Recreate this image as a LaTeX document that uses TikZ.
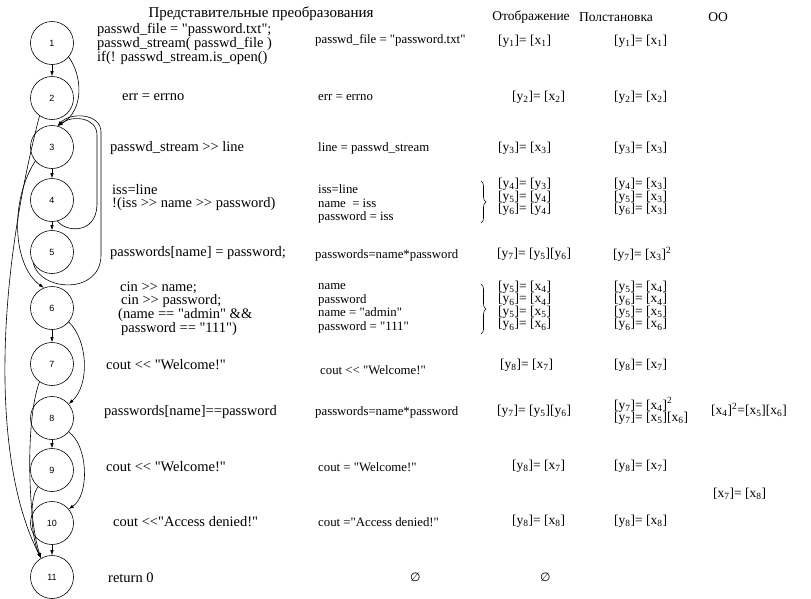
\documentclass[tikz,border=0pt]{standalone}
\usepackage{fontspec}
\setmainfont{Liberation Serif}[Ligatures=TeXOff]
\newfontfamily\circfont{Liberation Sans}
\newfontfamily\symfont{DejaVu Sans}
\usetikzlibrary{arrows.meta,decorations.pathreplacing}
\newcommand\bkt[2]{[#1\textsubscript{#2}]}
\begin{document}
\begin{tikzpicture}[x=1pt,y=-1pt,
  st/.style={circle,draw,line width=0.6pt,minimum size=43pt,inner sep=0pt,font=\circfont\fontsize{9}{9}\selectfont},
  conn/.style={-{Latex[length=5pt,width=3.5pt]},line width=0.6pt},
  hdr/.style={inner sep=0pt,font=\fontsize{15}{15}\selectfont},
  shdr/.style={inner sep=0pt,font=\fontsize{13.5}{13.5}\selectfont},
  ctext/.style={anchor=west,inner sep=0pt,align=left,font=\fontsize{14.5}{12.5}\selectfont},
  rtext/.style={anchor=west,inner sep=0pt,align=left,font=\fontsize{12.8}{13.5}\selectfont},
  eqn/.style={anchor=west,inner sep=0pt,align=left,font=\fontsize{13.5}{12.5}\selectfont},
  brc/.style={decorate,decoration={brace,amplitude=5pt},line width=0.6pt}
]
\useasboundingbox[fill=white] (0,0) rectangle (811,598);
% states
\node[st] (n1) at (52,43) {1};
\node[st] (n2) at (52,98) {2};
\node[st] (n3) at (52,147) {3};
\node[st] (n4) at (52,200) {4};
\node[st] (n5) at (52,252) {5};
\node[st] (n6) at (52,308) {6};
\node[st] (n7) at (52,364) {7};
\node[st] (n8) at (52,418) {8};
\node[st] (n9) at (52,470) {9};
\node[st] (n10) at (52,523) {10};
\node[st] (n11) at (52,577) {11};
% straight edges
\draw[conn] (n1) -- (n2);
\draw[conn] (n3) -- (n4);
\draw[conn] (n4) -- (n5);
\draw[conn] (n6) -- (n7);
\draw[conn] (n8) -- (n9);
\draw[conn] (n10) -- (n11);
% curved edges
\draw[conn] (n1.-40) .. controls (82,75) and (85,110) .. (n3.75);
\draw[conn] (n4.-75) .. controls (65,232) and (96,235) .. (97,205) -- (97,135) .. controls (97,117) and (72,115) .. (n3.75);
\draw[conn] (n5.-150) .. controls (40,292) and (101,295) .. (101,255) -- (101,132) .. controls (101,113) and (70,112) .. (n3.75);
\draw[conn] (n3.-140) .. controls (10,200) and (12,265) .. (n6.112);
\draw[conn] (n2.-125) .. controls (-8,300) and (-5,470) .. (n11.120);
\draw[conn] (n6.-40) .. controls (88,340) and (90,385) .. (n8.40);
\draw[conn] (n8.-40) .. controls (88,445) and (90,495) .. (n10.40);
\draw[conn] (n7.-125) .. controls (25,420) and (28,520) .. (n11.120);
\draw[conn] (n9.-130) .. controls (28,500) and (32,540) .. (n11.120);
% headers
\node[hdr] (h1) at (261,14) {Представительные преобразования};
\node[shdr] (h2) at (531,17) {Отображение};
\node[shdr] (h3) at (616,17) {Полстановка};
\node[shdr] (h4) at (718,17) {ОО};
% column 1: program statements
\node[ctext] (a1) at (97,44) {passwd\_file = "password.txt";\\passwd\_stream( passwd\_file )\\if(! passwd\_stream.is\_open()};
\node[ctext] (a2) at (122,97) {err = errno};
\node[ctext] (a3) at (110,148) {passwd\_stream >> line};
\node[ctext,font=\fontsize{14.5}{13.5}\selectfont] (a4) at (112,197.5) {iss=line\\!(iss >> name >> password)};
\node[ctext] (a5) at (110,253) {passwords[name] = password;};
\node[ctext,font=\fontsize{14.5}{13}\selectfont] (a6) at (118,308.5) {\hspace{2pt}cin >> name;\\\hspace{3pt}cin >> password;\\(name == "admin" \&\&\\\hspace{3pt}password == "111")};
\node[ctext] (a7) at (106,365) {cout << "Welcome!"};
\node[ctext] (a8) at (104,412) {passwords[name]==password};
\node[ctext] (a9) at (106,467) {cout << "Welcome!"};
\node[ctext] (a10) at (113,522) {cout <<"Access denied!"};
\node[ctext] (a11) at (108,578) {return 0};
% column 2: representative transformations
\node[rtext] (b1) at (315,40) {passwd\_file = "password.txt"};
\node[rtext] (b2) at (318,98) {err = errno};
\node[rtext] (b3) at (318,148) {line = passwd\_stream};
\node[rtext] (b4) at (318,204) {iss=line\\name \ = iss\\password = iss};
\draw[brc] (481,181) -- (481,223);
\node[rtext] (b5) at (315,255) {passwords=name*password};
\node[rtext] (b6) at (318,308.5) {name\\password\\name = "admin"\\password = "111"};
\draw[brc] (481,284) -- (481,334);
\node[rtext] (b7) at (320,370) {cout << "Welcome!"};
\node[rtext] (b8) at (315,412) {passwords=name*password};
\node[rtext] (b9) at (318,467) {cout = "Welcome!"};
\node[rtext] (b10) at (318,522) {cout ="Access denied!"};
\node[rtext,font=\symfont\fontsize{12}{12}\selectfont] (b11) at (410,577) {∅};
% column 3: mapping
\node[eqn] (c1) at (498,41) {\bkt{y}{1}= \bkt{x}{1}};
\node[eqn] (c2) at (512,97) {\bkt{y}{2}= \bkt{x}{2}};
\node[eqn] (c3) at (498,148) {\bkt{y}{3}= \bkt{x}{3}};
\node[eqn] (c4) at (498,197) {\bkt{y}{4}= \bkt{y}{3}\\\bkt{y}{5}= \bkt{y}{4}\\\bkt{y}{6}= \bkt{y}{4}};
\node[eqn] (c5) at (497,254) {\bkt{y}{7}= \bkt{y}{5}\bkt{y}{6}};
\node[eqn] (c6) at (498,306) {\bkt{y}{5}= \bkt{x}{4}\\\bkt{y}{6}= \bkt{x}{4}\\\bkt{y}{5}= \bkt{x}{5}\\\bkt{y}{6}= \bkt{x}{6}};
\node[eqn] (c7) at (500,365) {\bkt{y}{8}= \bkt{x}{7}};
\node[eqn] (c8) at (497,411) {\bkt{y}{7}= \bkt{y}{5}\bkt{y}{6}};
\node[eqn] (c9) at (512,466) {\bkt{y}{8}= \bkt{x}{7}};
\node[eqn] (c10) at (512,521) {\bkt{y}{8}= \bkt{x}{8}};
\node[eqn,font=\symfont\fontsize{12}{12}\selectfont] (c11) at (540,577) {∅};
% column 4: substitution
\node[eqn] (d1) at (614,41) {\bkt{y}{1}= \bkt{x}{1}};
\node[eqn] (d2) at (614,97) {\bkt{y}{2}= \bkt{x}{2}};
\node[eqn] (d3) at (614,148) {\bkt{y}{3}= \bkt{x}{3}};
\node[eqn] (d4) at (614,197) {\bkt{y}{4}= \bkt{x}{3}\\\bkt{y}{5}= \bkt{x}{3}\\\bkt{y}{6}= \bkt{x}{3}};
\node[eqn] (d5) at (613,254) {\bkt{y}{7}= \bkt{x}{3}\textsuperscript{2}};
\node[eqn] (d6) at (614,306) {\bkt{y}{5}= \bkt{x}{4}\\\bkt{y}{6}= \bkt{x}{4}\\\bkt{y}{5}= \bkt{x}{5}\\\bkt{y}{6}= \bkt{x}{6}};
\node[eqn] (d7) at (614,365) {\bkt{y}{8}= \bkt{x}{7}};
\node[eqn] (d8) at (614,411) {\bkt{y}{7}= \bkt{x}{4}\textsuperscript{2}\\\bkt{y}{7}= \bkt{x}{5}\bkt{x}{6}};
\node[eqn] (d9) at (614,466) {\bkt{y}{8}= \bkt{x}{7}};
\node[eqn] (d10) at (614,521) {\bkt{y}{8}= \bkt{x}{8}};
% column 5
\node[eqn] (e1) at (711,410) {\bkt{x}{4}\textsuperscript{2}=\bkt{x}{5}\bkt{x}{6}};
\node[eqn] (e2) at (713,494) {\bkt{x}{7}= \bkt{x}{8}};
\end{tikzpicture}
\end{document}
